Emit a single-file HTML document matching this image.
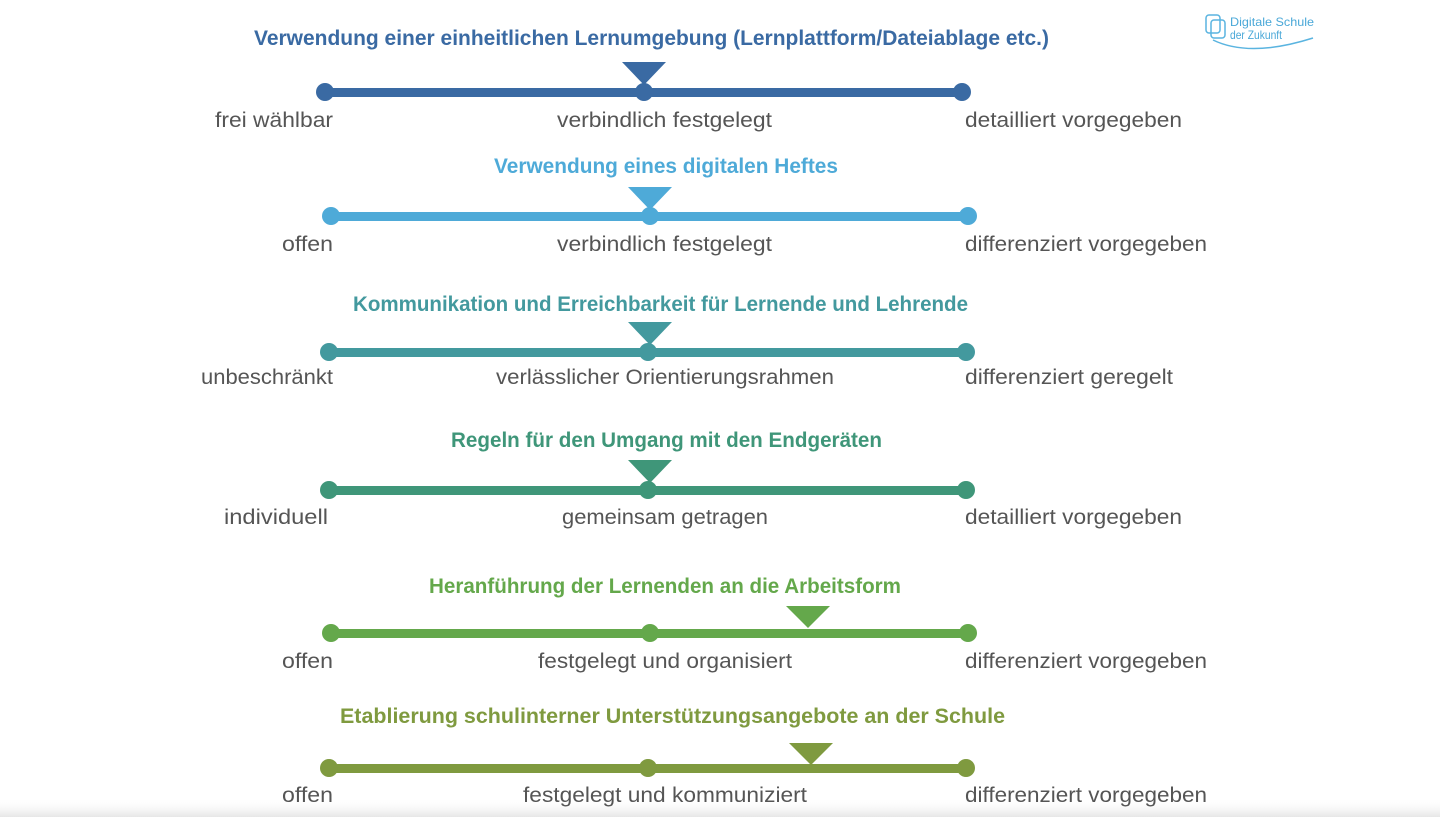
<!DOCTYPE html>
<html><head><meta charset="utf-8"><style>
html,body{margin:0;padding:0;background:#fff;}
svg{display:block;}
.t{font-family:"Liberation Sans",sans-serif;font-weight:bold;font-size:21px;}
.l{font-family:"Liberation Sans",sans-serif;font-size:21px;fill:#555;}
</style></head><body>
<svg width="1440" height="817" viewBox="0 0 1440 817" xmlns="http://www.w3.org/2000/svg">
<defs><linearGradient id="sh" x1="0" y1="0" x2="0" y2="1"><stop offset="0" stop-color="#fff" stop-opacity="0"/><stop offset="1" stop-color="#e6e6e6"/></linearGradient></defs>
<rect width="1440" height="817" fill="#fff"/>
<rect x="0" y="798" width="1440" height="19" fill="url(#sh)"/>
<!-- logo -->
<g fill="none" stroke="#5ab4e0" stroke-width="1.5">
<rect x="1206" y="15" width="14" height="18" rx="3"/>
<rect x="1211" y="20" width="14" height="18" rx="3"/>
<path d="M1213 40 Q1250 58 1313 38"/>
</g>
<text x="1230" y="26" font-family="Liberation Sans,sans-serif" font-size="12" fill="#4aa8d8" textLength="84" lengthAdjust="spacingAndGlyphs">Digitale Schule</text>
<text x="1230" y="39" font-family="Liberation Sans,sans-serif" font-size="12" fill="#4aa8d8" textLength="52" lengthAdjust="spacingAndGlyphs">der Zukunft</text>

<!-- row1 -->
<g fill="#3a6aa3" stroke="none">
<text class="t" x="254" y="45" textLength="795" lengthAdjust="spacingAndGlyphs">Verwendung einer einheitlichen Lernumgebung (Lernplattform/Dateiablage etc.)</text>
<rect x="325" y="88" width="637" height="9"/>
<circle cx="325" cy="92" r="9"/><circle cx="644" cy="92" r="9"/><circle cx="962" cy="92" r="9"/>
<polygon points="622,62 666,62 644,85"/>
</g>
<text class="l" x="215" y="127" textLength="118" lengthAdjust="spacingAndGlyphs">frei wählbar</text>
<text class="l" x="557" y="127" textLength="215" lengthAdjust="spacingAndGlyphs">verbindlich festgelegt</text>
<text class="l" x="965" y="127" textLength="217" lengthAdjust="spacingAndGlyphs">detailliert vorgegeben</text>

<!-- row2 -->
<g fill="#4eaad8">
<text class="t" x="494" y="173" textLength="344" lengthAdjust="spacingAndGlyphs">Verwendung eines digitalen Heftes</text>
<rect x="331" y="212" width="637" height="9"/>
<circle cx="331" cy="216" r="9"/><circle cx="650" cy="216" r="9"/><circle cx="968" cy="216" r="9"/>
<polygon points="628,187 672,187 650,210"/>
</g>
<text class="l" x="282" y="251" textLength="51" lengthAdjust="spacingAndGlyphs">offen</text>
<text class="l" x="557" y="251" textLength="215" lengthAdjust="spacingAndGlyphs">verbindlich festgelegt</text>
<text class="l" x="965" y="251" textLength="242" lengthAdjust="spacingAndGlyphs">differenziert vorgegeben</text>

<!-- row3 -->
<g fill="#43999e">
<text class="t" x="353" y="311" textLength="615" lengthAdjust="spacingAndGlyphs">Kommunikation und Erreichbarkeit für Lernende und Lehrende</text>
<rect x="329" y="348" width="637" height="9"/>
<circle cx="329" cy="352" r="9"/><circle cx="648" cy="352" r="9"/><circle cx="966" cy="352" r="9"/>
<polygon points="628,322 672,322 650,345"/>
</g>
<text class="l" x="201" y="384" textLength="132" lengthAdjust="spacingAndGlyphs">unbeschränkt</text>
<text class="l" x="496" y="384" textLength="338" lengthAdjust="spacingAndGlyphs">verlässlicher Orientierungsrahmen</text>
<text class="l" x="965" y="384" textLength="208" lengthAdjust="spacingAndGlyphs">differenziert geregelt</text>

<!-- row4 -->
<g fill="#3f9679">
<text class="t" x="451" y="447" textLength="431" lengthAdjust="spacingAndGlyphs">Regeln für den Umgang mit den Endgeräten</text>
<rect x="329" y="486" width="637" height="9"/>
<circle cx="329" cy="490" r="9"/><circle cx="648" cy="490" r="9"/><circle cx="966" cy="490" r="9"/>
<polygon points="628,460 672,460 650,483"/>
</g>
<text class="l" x="224" y="524" textLength="104" lengthAdjust="spacingAndGlyphs">individuell</text>
<text class="l" x="562" y="524" textLength="206" lengthAdjust="spacingAndGlyphs">gemeinsam getragen</text>
<text class="l" x="965" y="524" textLength="217" lengthAdjust="spacingAndGlyphs">detailliert vorgegeben</text>

<!-- row5 -->
<g fill="#64a84b">
<text class="t" x="429" y="593" textLength="472" lengthAdjust="spacingAndGlyphs">Heranführung der Lernenden an die Arbeitsform</text>
<rect x="331" y="629" width="637" height="9"/>
<circle cx="331" cy="633" r="9"/><circle cx="650" cy="633" r="9"/><circle cx="968" cy="633" r="9"/>
<polygon points="786,606 830,606 808,628"/>
</g>
<text class="l" x="282" y="668" textLength="51" lengthAdjust="spacingAndGlyphs">offen</text>
<text class="l" x="538" y="668" textLength="254" lengthAdjust="spacingAndGlyphs">festgelegt und organisiert</text>
<text class="l" x="965" y="668" textLength="242" lengthAdjust="spacingAndGlyphs">differenziert vorgegeben</text>

<!-- row6 -->
<g fill="#7f9a3f">
<text class="t" x="340" y="723" textLength="665" lengthAdjust="spacingAndGlyphs">Etablierung schulinterner Unterstützungsangebote an der Schule</text>
<rect x="329" y="764" width="637" height="9"/>
<circle cx="329" cy="768" r="9"/><circle cx="648" cy="768" r="9"/><circle cx="966" cy="768" r="9"/>
<polygon points="789,743 833,743 811,765"/>
</g>
<text class="l" x="282" y="802" textLength="51" lengthAdjust="spacingAndGlyphs">offen</text>
<text class="l" x="523" y="802" textLength="284" lengthAdjust="spacingAndGlyphs">festgelegt und kommuniziert</text>
<text class="l" x="965" y="802" textLength="242" lengthAdjust="spacingAndGlyphs">differenziert vorgegeben</text>
</svg>
</body></html>
